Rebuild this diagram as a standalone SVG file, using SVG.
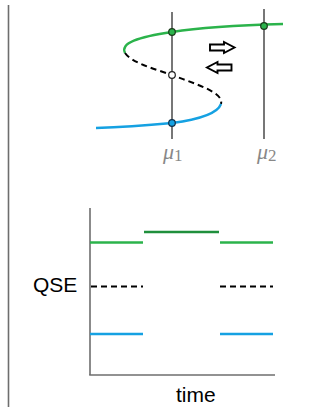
<svg xmlns="http://www.w3.org/2000/svg" width="336" height="407" viewBox="0 0 336 407">
<style>
.axis{stroke:#6e6e6e;stroke-width:1.6;fill:none}
.vline{stroke:#777;stroke-width:2;fill:none}
.green{stroke:#2bb34b;stroke-width:2.4;fill:none}
.dgreen{stroke:#1f8f3c;stroke-width:2.4;fill:none}
.blue{stroke:#15a1e2;stroke-width:2.4;fill:none}
.dash{stroke:#000;stroke-width:2;fill:none;stroke-dasharray:6,4}
.arrow{fill:#fff;stroke:#000;stroke-width:1.9}
.mu{font-family:"Liberation Serif",serif;fill:#888}
.lbl{font-family:"Liberation Sans",Arial,sans-serif;fill:#000}
</style>
<g id="frame"><line class="axis" x1="8.5" y1="5" x2="8.5" y2="407"/></g>
<g id="mu1-line"><line class="vline" x1="172" y1="12" x2="172" y2="139"/></g>
<g id="mu2-line"><line class="vline" x1="264" y1="9" x2="264" y2="139"/></g>
<g id="curve">
<path class="green" d="M283,24 Q210,26 172,32 C138,37 120,43 125,53"/>
<path class="dash" d="M125,53 C132,63 155,69 172,75 C195,84 224,92 221,104"/>
<path class="blue" d="M221,104 C217,115 195,120 172,123 Q130,127 96,128"/>
</g>
<g id="dots">
<circle cx="264" cy="26" r="3.3" fill="#2bb34b" stroke="#1a3a1a" stroke-width="1.2"/>
<circle cx="172" cy="32" r="3.3" fill="#2bb34b" stroke="#1a3a1a" stroke-width="1.2"/>
<circle cx="172" cy="75" r="3.3" fill="#fff" stroke="#222" stroke-width="1.2"/>
<circle cx="172" cy="123" r="3.3" fill="#15a1e2" stroke="#10304a" stroke-width="1.2"/>
</g>
<g id="arrow-right"><polygon class="arrow" points="210,44.5 224,44.5 224,42 234.5,47.5 224,53 224,50.5 210,50.5"/></g>
<g id="arrow-left"><polygon class="arrow" points="231.5,64.5 217.5,64.5 217.5,62 207,67.5 217.5,73 217.5,70.5 231.5,70.5"/></g>
<g id="label-mu1"><text class="mu" x="163" y="159" font-size="22" font-style="italic">μ<tspan font-style="normal" font-size="17" dy="2">1</tspan></text></g>
<g id="label-mu2"><text class="mu" x="257" y="159" font-size="22" font-style="italic">μ<tspan font-style="normal" font-size="17" dy="2">2</tspan></text></g>
<g id="axes">
<line class="axis" x1="90" y1="208" x2="90" y2="375"/>
<line class="axis" x1="89.2" y1="375" x2="275" y2="375"/>
</g>
<g id="qse-lines">
<line class="green" x1="90" y1="242.5" x2="143" y2="242.5"/>
<line class="dgreen" x1="144" y1="232" x2="219" y2="232"/>
<line class="green" x1="220" y1="242.5" x2="273" y2="242.5"/>
<line class="dash" x1="91" y1="286.5" x2="143" y2="286.5" stroke-dasharray="7,4"/>
<line class="dash" x1="220" y1="286.5" x2="273" y2="286.5" stroke-dasharray="7,4"/>
<line class="blue" x1="90" y1="334" x2="143" y2="334"/>
<line class="blue" x1="220" y1="334" x2="273" y2="334"/>
</g>
<g id="label-qse"><text class="lbl" x="33" y="292" font-size="21">QSE</text></g>
<g id="label-time"><text class="lbl" x="176" y="402" font-size="21">time</text></g>
</svg>
